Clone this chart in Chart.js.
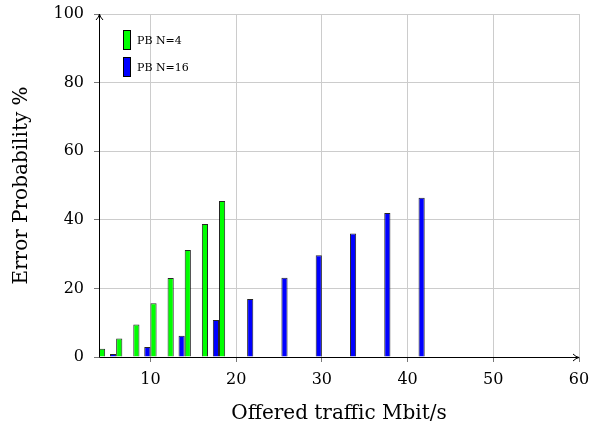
<!DOCTYPE html>
<html>
<head>
<meta charset="utf-8">
<script src="https://cdn.jsdelivr.net/npm/chart.js@4/dist/chart.umd.min.js"></script>
<style>
  body { margin: 0; background: #fff; }
  canvas { display: block; }
</style>
</head>
<body>
<canvas id="myChart" width="592" height="429"></canvas>
<script>
var etiquetas = ['PB N=4', 'PB N=16'];

var xN4 = [4, 6, 8, 10, 12, 14, 16, 18];
var yN4 = [2.4, 5.4, 9.5, 15.7, 23.0, 31.2, 38.8, 45.5];

var xN16 = [6, 10, 14, 18, 22, 26, 30, 34, 38, 42];
var yN16 = [0.9, 2.9, 6.2, 10.8, 16.9, 23.1, 29.7, 36.0, 42.0, 46.4];

var ticksX = [10, 20, 30, 40, 50, 60];
var ticksY = [0, 20, 40, 60, 80, 100];

var fuente = 'DejaVu Serif';

function juntarPuntos(xs, ys) {
  var puntos = [];
  for (var i = 0; i < xs.length; i++) {
    puntos.push({ x: xs[i], y: ys[i] });
  }
  return puntos;
}

// ejes con flecha, dibujados encima de las barras
var pluginEjes = {
  id: 'ejes',
  afterDatasetsDraw: function(chart) {
    var ctx = chart.ctx;
    var a = chart.chartArea;
    ctx.save();
    ctx.strokeStyle = '#000';
    ctx.lineWidth = 1;
    ctx.beginPath();
    ctx.moveTo(a.left + 0.5, a.bottom + 0.5);
    ctx.lineTo(a.right, a.bottom + 0.5);
    ctx.moveTo(a.left + 0.5, a.bottom + 0.5);
    ctx.lineTo(a.left + 0.5, a.top);
    ctx.stroke();
    // punta derecha
    ctx.beginPath();
    ctx.moveTo(a.right - 6, a.bottom - 3);
    ctx.quadraticCurveTo(a.right - 3, a.bottom, a.right, a.bottom + 0.5);
    ctx.quadraticCurveTo(a.right - 3, a.bottom + 1, a.right - 6, a.bottom + 4);
    ctx.stroke();
    // punta arriba
    ctx.beginPath();
    ctx.moveTo(a.left - 3, a.top + 6);
    ctx.quadraticCurveTo(a.left, a.top + 3, a.left + 0.5, a.top);
    ctx.quadraticCurveTo(a.left + 1, a.top + 3, a.left + 4, a.top + 6);
    ctx.stroke();
    ctx.restore();
  }
};

// leyenda dentro del area del grafico
var pluginLeyenda = {
  id: 'leyendaDentro',
  afterDraw: function(chart) {
    var ctx = chart.ctx;
    var ds = chart.data.datasets;
    ctx.save();
    ctx.font = '11px "' + fuente + '"';
    ctx.textBaseline = 'middle';
    for (var i = 0; i < ds.length; i++) {
      var y0 = 30 + i * 27;
      ctx.fillStyle = ds[i].backgroundColor;
      ctx.fillRect(123, y0, 8, 20);
      ctx.strokeStyle = '#000';
      ctx.lineWidth = 1;
      ctx.strokeRect(123.5, y0 + 0.5, 7, 19);
      ctx.fillStyle = '#000';
      ctx.fillText(ds[i].label, 137, y0 + 11);
    }
    ctx.restore();
  }
};

window.onload = function() {
  var ctx = document.getElementById('myChart').getContext('2d');

  var data = {
    datasets: [
      {
        label: etiquetas[0],
        data: juntarPuntos(xN4, yN4),
        backgroundColor: 'rgb(0, 255, 0)',
        borderColor: 'rgba(0, 0, 0, 0.85)',
        borderWidth: 1,
        order: 2
      },
      {
        label: etiquetas[1],
        data: juntarPuntos(xN16, yN16),
        backgroundColor: 'rgb(0, 0, 255)',
        borderColor: 'rgba(0, 0, 0, 0.85)',
        borderWidth: 1,
        order: 1
      }
    ]
  };

  var options = {
    responsive: false,
    animation: false,
    devicePixelRatio: 1,
    categoryPercentage: 0.72,
    barPercentage: 1.0,
    layout: {
      padding: { left: 0, right: 13, top: 14, bottom: 0 }
    },
    scales: {
      x: {
        type: 'linear',
        min: 4,
        max: 60,
        offset: false,
        afterBuildTicks: function(scale) {
          scale.ticks = ticksX.map(function(v) { return { value: v }; });
        },
        afterFit: function(scale) {
          scale.height = 72;
          scale.paddingLeft = 0;
          scale.paddingRight = 0;
        },
        grid: {
          offset: false,
          color: 'rgb(204, 204, 204)',
          tickColor: 'rgb(120, 120, 120)',
          tickLength: 5
        },
        border: { display: false },
        ticks: {
          color: '#000',
          padding: 8,
          maxRotation: 0,
          font: { family: fuente, size: 16 }
        },
        title: {
          display: true,
          text: 'Offered traffic Mbit/s',
          color: '#000',
          padding: { top: 3, bottom: 3 },
          font: { family: fuente, size: 20 }
        }
      },
      y: {
        min: 0,
        max: 100,
        afterBuildTicks: function(scale) {
          scale.ticks = ticksY.map(function(v) { return { value: v }; });
        },
        afterFit: function(scale) {
          scale.width = 99;
          scale.paddingTop = 0;
          scale.paddingBottom = 0;
        },
        grid: {
          color: 'rgb(204, 204, 204)',
          tickColor: 'rgb(120, 120, 120)',
          tickLength: 5
        },
        border: { display: false },
        ticks: {
          color: '#000',
          padding: 10,
          font: { family: fuente, size: 16 }
        },
        title: {
          display: true,
          text: 'Error Probability %',
          color: '#000',
          padding: { top: 10, bottom: 0 },
          font: { family: fuente, size: 20 }
        }
      }
    },
    plugins: {
      legend: { display: false },
      tooltip: { enabled: false }
    }
  };

  new Chart(ctx, {
    type: 'bar',
    data: data,
    options: options,
    plugins: [pluginEjes, pluginLeyenda]
  });
};
</script>
</body>
</html>
